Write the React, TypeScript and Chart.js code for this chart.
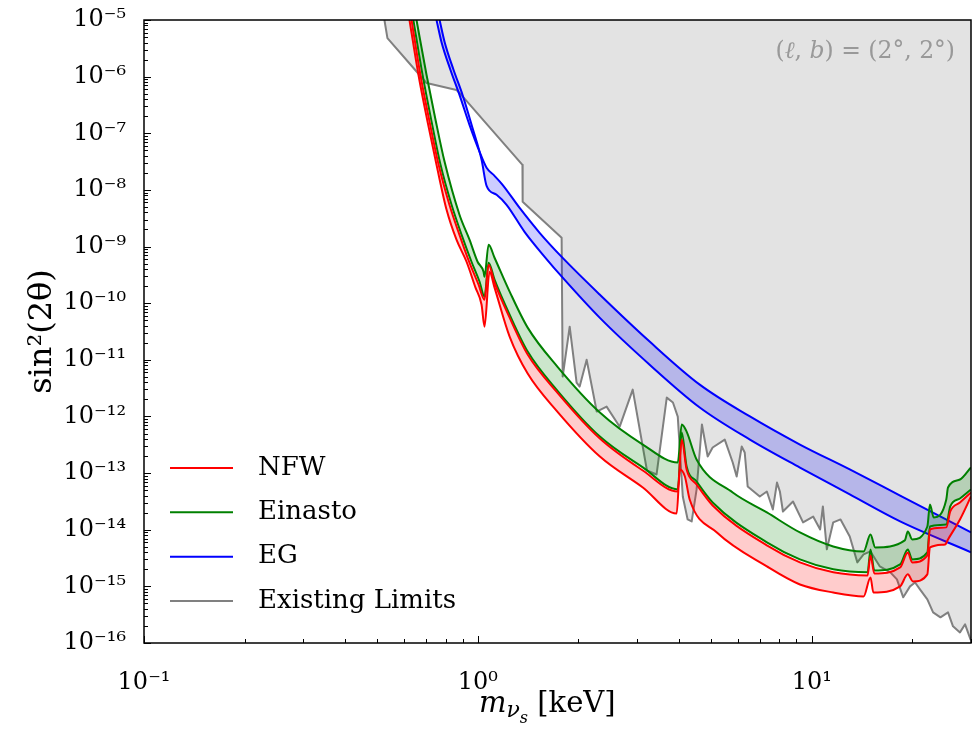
import React, { useEffect, useRef } from 'react';
import { Chart, registerables } from 'chart.js';

Chart.register(...registerables);

const SERIF = '"DejaVu Serif", "Liberation Serif", serif';

// ---- data (m in keV, sin^2(2theta)) ----
const nfwLoX = [0.624, 0.664, 0.707, 0.752, 0.806, 0.863, 0.925, 0.984, 1.026, 1.047, 1.084, 1.122, 1.245, 1.41, 1.73, 2.32, 3.12, 3.94, 4.03, 4.17, 4.31, 5.2, 7.34, 9.22, 11.6, 14.3, 15.0, 15.3, 18.4, 19.4, 20.1, 22.2, 22.6, 25.1, 25.6, 27.8, 30];
const nfwLoY = [1e-5, 1.07e-6, 1.59e-7, 2.77e-8, 4.45e-9, 1.32e-9, 5.39e-10, 1.88e-10, 9.4e-11, 3.85e-11, 3.6e-10, 1.88e-10, 2.57e-11, 5.71e-12, 1.22e-12, 1.96e-13, 5.57e-14, 1.94e-14, 1.16e-13, 8.7e-14, 3.42e-14, 8.95e-15, 2.25e-15, 1.08e-15, 7.8e-16, 6.65e-16, 1.44e-15, 7.8e-16, 1.0e-15, 1.63e-15, 1.22e-15, 1.63e-15, 4.87e-15, 5.5e-15, 6.74e-15, 1.52e-14, 3.86e-14];

const nfwHiX = [0.633, 0.673, 0.717, 0.763, 0.822, 0.881, 0.944, 1.005, 1.047, 1.077, 1.122, 1.245, 1.41, 1.73, 2.32, 3.12, 3.97, 4.08, 4.22, 4.52, 5.05, 7.34, 9.22, 11.6, 14.7, 15.0, 15.4, 18.4, 19.4, 20.0, 22.2, 22.6, 25.3, 26.0, 27.8, 30];
const nfwHiY = [1e-5, 1.07e-6, 1.59e-7, 2.77e-8, 5.46e-9, 1.61e-9, 5.18e-10, 2.12e-10, 1.15e-10, 4.78e-10, 2.3e-10, 5.55e-11, 1.24e-11, 2.64e-12, 4.07e-13, 1.11e-13, 4.73e-14, 3.91e-13, 1.16e-13, 6.3e-14, 2.68e-14, 5.28e-15, 2.65e-15, 1.77e-15, 1.56e-15, 3.52e-15, 1.69e-15, 2.16e-15, 3.97e-15, 2.65e-15, 3.52e-15, 1.01e-14, 1.1e-14, 2.1e-14, 3.03e-14, 4.55e-14];

const einLoX = [0.641, 0.683, 0.727, 0.773, 0.834, 0.894, 0.957, 1.012, 1.047, 1.077, 1.122, 1.245, 1.41, 1.73, 2.32, 3.12, 3.97, 4.08, 4.22, 4.52, 5.05, 7.34, 9.22, 11.6, 14.7, 15.0, 15.4, 18.4, 19.4, 20.0, 22.2, 22.6, 25.3, 26.0, 27.8, 30];
const einLoY = [1e-5, 1.07e-6, 1.59e-7, 2.77e-8, 5.46e-9, 1.61e-9, 5.39e-10, 2.39e-10, 1.3e-10, 5.18e-10, 2.6e-10, 6.27e-11, 1.4e-11, 2.87e-12, 4.42e-13, 1.26e-13, 5.14e-14, 5.2e-13, 1.31e-13, 7.1e-14, 3.03e-14, 5.97e-15, 2.99e-15, 2.0e-15, 1.77e-15, 4.49e-15, 1.91e-15, 2.44e-15, 4.49e-15, 2.99e-15, 3.97e-15, 1.14e-14, 1.24e-14, 2.58e-14, 3.56e-14, 5.14e-14];

const einHiX = [0.655, 0.702, 0.747, 0.795, 0.881, 0.944, 0.998, 1.04, 1.047, 1.077, 1.122, 1.245, 1.41, 1.73, 2.32, 3.12, 3.97, 4.08, 4.22, 4.52, 5.8, 7.34, 9.22, 11.6, 14.3, 15.0, 15.5, 19.0, 19.4, 20.0, 22.2, 22.6, 23.2, 25.3, 25.6, 27.8, 30];
const einHiY = [1e-5, 1.07e-6, 1.72e-7, 3.13e-8, 3.64e-9, 1.32e-9, 5.39e-10, 3.6e-10, 2.93e-10, 1.08e-9, 6.34e-10, 1.6e-10, 3.7e-11, 7.59e-12, 1.17e-12, 3.19e-13, 1.54e-13, 7.2e-13, 5.4e-13, 1.74e-13, 4.55e-14, 2.02e-14, 8.95e-15, 5.07e-15, 4.14e-15, 8.26e-15, 4.87e-15, 6.47e-15, 9.3e-15, 6.74e-15, 1.14e-14, 2.79e-14, 1.65e-14, 3.42e-14, 5.57e-14, 7.7e-14, 1.26e-13];

const egHiX = [0.752, 0.778, 0.828, 0.881, 0.944, 1.012, 1.062, 1.122, 1.186, 1.334, 1.531, 1.795, 2.32, 3.27, 4.62, 6.53, 9.22, 13.0, 18.4, 30];
const egHiY = [1e-5, 4.1e-6, 1.31e-6, 4.75e-7, 1.41e-7, 4.7e-8, 2.46e-8, 1.77e-8, 1.23e-8, 4.8e-9, 1.75e-9, 6.3e-10, 1.41e-10, 2.1e-11, 3.65e-12, 1.0e-12, 3.19e-13, 1.16e-13, 4.0e-14, 8.95e-15];

const egLoX = [0.768, 0.795, 0.846, 0.9, 0.964, 1.026, 1.062, 1.138, 1.219, 1.38, 1.585, 1.795, 2.32, 3.27, 4.62, 6.53, 9.22, 13.0, 18.4, 30];
const egLoY = [1e-5, 4.1e-6, 1.31e-6, 4.75e-7, 1.24e-7, 3.4e-8, 1.18e-8, 8.2e-9, 5.46e-9, 1.82e-9, 6.6e-10, 2.82e-10, 5.5e-11, 8.2e-12, 1.44e-12, 3.9e-13, 1.25e-13, 4.2e-14, 1.4e-14, 4.0e-15];

const limX = [0.525, 0.536, 0.669, 0.702, 0.863, 0.881, 1.36, 1.362, 1.782, 1.795, 1.884, 1.976, 2.018, 2.118, 2.27, 2.43, 2.66, 2.91, 3.21, 3.43, 3.68, 3.84, 3.97, 4.11, 4.25, 4.37, 4.52, 4.69, 4.88, 5.05, 5.49, 5.8, 5.96, 6.17, 6.3, 6.43, 6.99, 7.34, 7.65, 7.87, 8.03, 8.2, 8.79, 9.42, 10.1, 10.6, 10.8, 11.1, 11.6, 12.2, 13.0, 13.7, 14.3, 15.0, 16.0, 17.2, 18.0, 18.8, 19.7, 20.4, 21.1, 22.2, 23.1, 24.3, 25.6, 26.5, 27.8, 28.8, 29.9, 30];
const limY = [1e-5, 4.8e-6, 1.07e-6, 7.7e-7, 5.8e-7, 5.15e-7, 2.77e-8, 6.2e-9, 1.43e-9, 5.06e-12, 3.85e-11, 3.96e-12, 3.37e-12, 1.0e-11, 1.22e-12, 1.49e-12, 6.6e-13, 2.98e-12, 1.11e-13, 9.45e-14, 2.15e-12, 1.76e-12, 9.95e-13, 3.86e-14, 1.52e-14, 1.4e-14, 5.1e-14, 7.2e-13, 1.96e-13, 2.83e-13, 3.9e-13, 1.54e-13, 8.7e-14, 2.94e-13, 2.31e-13, 5.8e-14, 3.86e-14, 4.73e-14, 2.28e-14, 6.8e-14, 4.73e-14, 2.1e-14, 3.15e-14, 1.35e-14, 1.71e-14, 1.01e-14, 2.58e-14, 4.5e-15, 1.35e-14, 1.52e-14, 7.6e-15, 2.65e-15, 3.66e-15, 4.14e-15, 2.25e-15, 1.77e-15, 1.33e-15, 6.4e-16, 1.0e-15, 1.17e-15, 8.85e-16, 5.9e-16, 3.47e-16, 2.84e-16, 3.47e-16, 1.97e-16, 1.54e-16, 2.14e-16, 1.16e-16, 1.2e-16];

// ---- axes / labels ----
const xTickValues = [0.1, 1, 10];
const xTickLabels = ['10\u207B\u00B9', '10\u2070', '10\u00B9'];
const yTickValues = [1e-16, 1e-15, 1e-14, 1e-13, 1e-12, 1e-11, 1e-10, 1e-9, 1e-8, 1e-7, 1e-6, 1e-5];
const yTickLabels = ['10\u207B\u00B9\u2076', '10\u207B\u00B9\u2075', '10\u207B\u00B9\u2074', '10\u207B\u00B9\u00B3', '10\u207B\u00B9\u00B2', '10\u207B\u00B9\u00B9', '10\u207B\u00B9\u2070', '10\u207B\u2079', '10\u207B\u2078', '10\u207B\u2077', '10\u207B\u2076', '10\u207B\u2075'];
const X_MIN = 0.1;
const X_MAX = 30;
const Y_MIN = 1e-16;
const Y_MAX = 1e-5;

const legendLabels = ['NFW', 'Einasto', 'EG', 'Existing Limits'];
const legendColors = ['#ff0000', '#008000', '#0000ff', '#808080'];

const RED = '#ff0000';
const GREEN = '#008000';
const BLUE = '#0000ff';
const GRAY = '#808080';

const pts = (xs: number[], ys: number[]) => xs.map((x, i) => ({ x, y: ys[i] }));

function drawPieces(ctx: any, pieces: any[], startX: number, baseY: number) {
  let x = startX;
  for (const p of pieces) {
    ctx.font = p.font;
    ctx.fillText(p.t, x, baseY + (p.dy || 0));
    x += ctx.measureText(p.t).width;
  }
}
function piecesWidth(ctx: any, pieces: any[]) {
  let w = 0;
  for (const p of pieces) {
    ctx.font = p.font;
    w += ctx.measureText(p.t).width;
  }
  return w;
}

const decorPlugin = {
  id: 'decor',
  afterDatasetsDraw(chart: any) {
    const { ctx, chartArea: a, scales } = chart;
    ctx.save();
    ctx.strokeStyle = '#000';
    ctx.lineWidth = 1;
    for (let e = -1; e <= 1; e++) {
      for (let k = 1; k <= 9; k++) {
        const v = k * Math.pow(10, e);
        if (v < X_MIN - 1e-9 || v > X_MAX + 1e-9) continue;
        const px = Math.round(scales.x.getPixelForValue(v)) + 0.5;
        const len = k === 1 ? 7 : 4;
        ctx.beginPath();
        ctx.moveTo(px, a.bottom);
        ctx.lineTo(px, a.bottom - len);
        ctx.stroke();
      }
    }
    for (let e = -16; e <= -5; e++) {
      for (let k = 1; k <= 9; k++) {
        const v = k * Math.pow(10, e);
        if (v > Y_MAX * 1.0001) continue;
        const py = Math.round(scales.y.getPixelForValue(v)) + 0.5;
        const len = k === 1 ? 7 : 4;
        ctx.beginPath();
        ctx.moveTo(a.left, py);
        ctx.lineTo(a.left + len, py);
        ctx.stroke();
      }
    }
    ctx.lineWidth = 1.5;
    ctx.strokeRect(a.left, a.top, a.right - a.left, a.bottom - a.top);
    ctx.restore();
  },
  afterDraw(chart: any) {
    const { ctx, chartArea: a } = chart;
    ctx.save();
    ctx.textBaseline = 'middle';
    ctx.textAlign = 'left';
    for (let i = 0; i < legendLabels.length; i++) {
      const y = a.bottom - 175 + i * 44.33;
      ctx.strokeStyle = legendColors[i];
      ctx.lineWidth = 2;
      ctx.beginPath();
      ctx.moveTo(a.left + 26, y);
      ctx.lineTo(a.left + 89, y);
      ctx.stroke();
      ctx.fillStyle = '#000';
      ctx.font = `26px ${SERIF}`;
      ctx.fillText(legendLabels[i], a.left + 114, y);
    }
    ctx.textBaseline = 'alphabetic';
    ctx.fillStyle = '#999999';
    const ann = [
      { t: '(', font: `23.5px ${SERIF}` },
      { t: '\u2113', font: `italic 23.5px ${SERIF}` },
      { t: ', ', font: `23.5px ${SERIF}` },
      { t: 'b', font: `italic 23.5px ${SERIF}` },
      { t: ') = (2\u00B0, 2\u00B0)', font: `23.5px ${SERIF}` },
    ];
    const aw = piecesWidth(ctx, ann);
    drawPieces(ctx, ann, a.right - 16 - aw, a.top + 38);
    ctx.fillStyle = '#000';
    const xt = [
      { t: 'm', font: `italic 29px ${SERIF}` },
      { t: '\u03BD', font: `italic 22px ${SERIF}`, dy: 5 },
      { t: 's', font: `italic 16px ${SERIF}`, dy: 11 },
      { t: ' [keV]', font: `29px ${SERIF}` },
    ];
    const xw = piecesWidth(ctx, xt);
    drawPieces(ctx, xt, 479, 712);
    ctx.restore();
  },
};

export default function App() {
  const ref = useRef<HTMLCanvasElement>(null);
  useEffect(() => {
    const common = { pointRadius: 0, borderWidth: 2, borderJoinStyle: 'round' };
    const smooth = { ...common, cubicInterpolationMode: 'monotone' };
    const chart = new Chart(ref.current as HTMLCanvasElement, {
      type: 'line',
      data: {
        datasets: [
          { ...smooth, label: 'NFW', data: pts(nfwLoX, nfwLoY), borderColor: RED, fill: false },
          { ...smooth, label: 'NFW upper', data: pts(nfwHiX, nfwHiY), borderColor: RED, fill: '-1', backgroundColor: 'rgba(255,0,0,0.2)' },
          { ...smooth, label: 'Einasto', data: pts(einLoX, einLoY), borderColor: GREEN, fill: false },
          { ...smooth, label: 'Einasto upper', data: pts(einHiX, einHiY), borderColor: GREEN, fill: '-1', backgroundColor: 'rgba(0,128,0,0.2)' },
          { ...smooth, label: 'EG', data: pts(egLoX, egLoY), borderColor: BLUE, fill: false },
          { ...smooth, label: 'EG upper', data: pts(egHiX, egHiY), borderColor: BLUE, fill: '-1', backgroundColor: 'rgba(0,0,255,0.2)' },
          { ...common, label: 'Existing Limits', data: pts(limX, limY), borderColor: GRAY, fill: 'end', backgroundColor: 'rgba(128,128,128,0.22)' },
        ] as any,
      },
      options: {
        animation: false,
        responsive: false,
        devicePixelRatio: 1,
        layout: { padding: { left: 8, right: 9, top: 20, bottom: 0 } },
        plugins: { legend: { display: false }, tooltip: { enabled: false } },
        scales: {
          x: {
            type: 'logarithmic',
            min: X_MIN,
            max: X_MAX,
            bounds: 'data',
            grid: { display: false },
            border: { display: false },
            ticks: {
              autoSkip: false,
              maxRotation: 0,
              padding: 17,
              color: '#000',
              font: { family: SERIF, size: 24 },
              callback: (_v: any, i: number) => xTickLabels[i],
            },
            afterBuildTicks: (s: any) => { s.ticks = xTickValues.map((v) => ({ value: v })); },
            afterFit: (s: any) => { s.height = 86; },
          },
          y: {
            type: 'logarithmic',
            min: Y_MIN,
            max: Y_MAX,
            bounds: 'data',
            grid: { display: false },
            border: { display: false },
            ticks: {
              autoSkip: false,
              padding: 10,
              color: '#000',
              font: { family: SERIF, size: 24, lineHeight: 0.8 },
              callback: (_v: any, i: number) => yTickLabels[i],
            },
            afterBuildTicks: (s: any) => { s.ticks = yTickValues.map((v) => ({ value: v })); },
            afterFit: (s: any) => { s.width = 136; },
            title: {
              display: true,
              text: 'sin\u00B2(2\u03B8)',
              color: '#000',
              font: { family: SERIF, size: 32 },
              padding: { top: 15, bottom: 0 },
            },
          },
        },
      } as any,
      plugins: [decorPlugin],
    });
    return () => chart.destroy();
  }, []);
  return (
    <div style={{ position: 'fixed', left: 0, top: 0, width: 980, height: 729, background: '#fff' }}>
      <canvas ref={ref} width={980} height={729} style={{ display: 'block', width: 980, height: 729 }} />
    </div>
  );
}
